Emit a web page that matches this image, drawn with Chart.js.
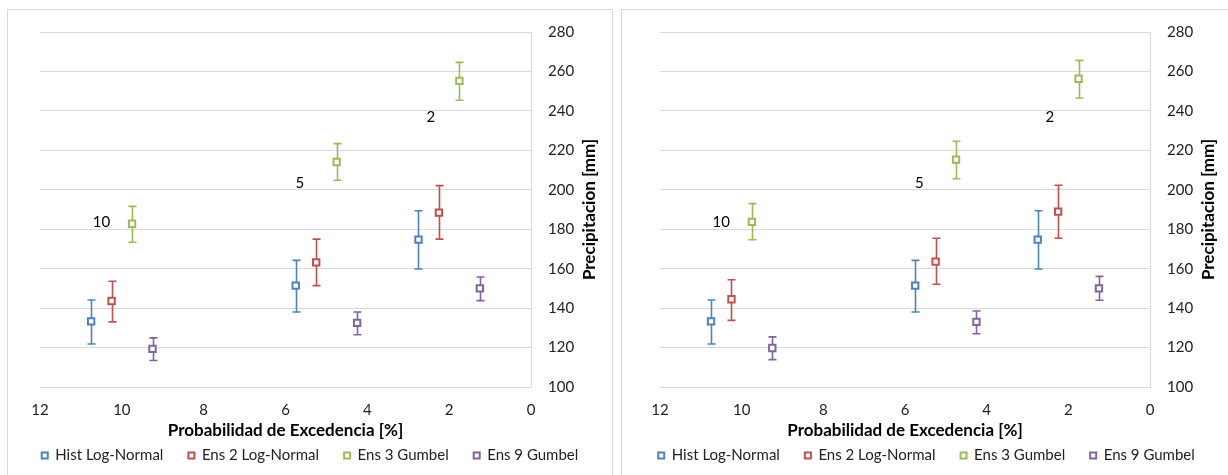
<!DOCTYPE html>
<html>
<head>
<meta charset="utf-8">
<script src="https://cdn.jsdelivr.net/npm/chart.js@4.4.0/dist/chart.umd.min.js"></script>
<style>
  body { margin: 0; background: #fff; width: 1228px; height: 475px; overflow: hidden; position: relative; }
  .panel { position: absolute; top: 9px; height: 470px; border: 1px solid #d9d9d9; background: #fff; }
  .panel canvas { display: block; }
</style>
</head>
<body>
<div class="panel" style="left:7px;width:604px"><canvas id="chartLeft" width="604" height="465"></canvas></div>
<div class="panel" style="left:621px;width:609px"><canvas id="chartRight" width="609" height="465"></canvas></div>
<script>
// Probabilidad de excedencia vs precipitacion, two panels
const SERIES_NAMES = ["Hist Log-Normal", "Ens 2 Log-Normal", "Ens 3 Gumbel", "Ens 9 Gumbel"];
const SERIES_COLORS = ["#4f81bd", "#c0504d", "#9bbb59", "#8064a2"];

// x positions (exceedance %) per series, offset around 10, 5, 2
const histX = [10.75, 5.75, 2.75];
const ens2X = [10.25, 5.25, 2.25];
const ens3X = [9.75, 4.75, 1.75];
const ens9X = [9.25, 4.25, 1.25];

// left panel
const histLeft = [133.3, 151.4, 174.7];
const histLeftLow = [121.8, 138.0, 159.8];
const histLeftHigh = [144.1, 164.2, 189.4];
const ens2Left = [143.6, 163.2, 188.4];
const ens2LeftLow = [133.0, 151.4, 175.0];
const ens2LeftHigh = [153.6, 175.0, 202.1];
const ens3Left = [182.8, 214.1, 255.2];
const ens3LeftLow = [173.4, 204.8, 245.4];
const ens3LeftHigh = [191.6, 223.4, 264.6];
const ens9Left = [119.3, 132.5, 150.0];
const ens9LeftLow = [113.4, 126.5, 143.8];
const ens9LeftHigh = [124.9, 138.0, 155.8];

// right panel
const histRight = [133.3, 151.4, 174.7];
const histRightLow = [121.8, 138.0, 159.8];
const histRightHigh = [144.1, 164.2, 189.4];
const ens2Right = [144.5, 163.6, 188.9];
const ens2RightLow = [133.8, 152.1, 175.4];
const ens2RightHigh = [154.4, 175.4, 202.3];
const ens3Right = [183.7, 215.3, 256.3];
const ens3RightLow = [174.7, 205.6, 246.5];
const ens3RightHigh = [193.0, 224.6, 265.6];
const ens9Right = [119.8, 133.0, 150.0];
const ens9RightLow = [113.9, 127.0, 144.0];
const ens9RightHigh = [125.4, 138.5, 156.1];

// return period labels
const periodText = ["10", "5", "2"];
const periodX = [10.5, 5.65, 2.45];
const periodY = [183.5, 203.5, 237];

const FONT = "Lato";

function points(xs, ys, lows, highs) {
  return xs.map((x, i) => ({ x, y: ys[i], low: lows[i], high: highs[i] }));
}

const errorBars = {
  id: "errorBars",
  beforeDatasetsDraw(chart) {
    const { ctx, scales: { x, y } } = chart;
    chart.data.datasets.forEach((ds) => {
      ctx.save();
      ctx.strokeStyle = ds.borderColor;
      ctx.lineWidth = 1.6;
      ds.data.forEach((p) => {
        const px = Math.round(x.getPixelForValue(p.x)) + 0.5;
        const lo = y.getPixelForValue(p.low);
        const hi = y.getPixelForValue(p.high);
        ctx.beginPath();
        ctx.moveTo(px, lo); ctx.lineTo(px, hi);
        ctx.moveTo(px - 4, lo); ctx.lineTo(px + 4, lo);
        ctx.moveTo(px - 4, hi); ctx.lineTo(px + 4, hi);
        ctx.stroke();
      });
      ctx.restore();
    });
  },
};

const extraText = {
  id: "extraText",
  afterDraw(chart) {
    const { ctx, chartArea, scales: { x, y } } = chart;
    ctx.save();
    ctx.fillStyle = "#000";
    ctx.font = `15px ${FONT}`;
    ctx.textAlign = "center";
    ctx.textBaseline = "middle";
    periodText.forEach((t, i) => {
      ctx.fillText(t, x.getPixelForValue(periodX[i]), y.getPixelForValue(periodY[i]));
    });
    // y title reads bottom-to-top
    ctx.font = `bold 17px ${FONT}`;
    ctx.translate(chartArea.right + 59, (chartArea.top + chartArea.bottom) / 2);
    ctx.rotate(-Math.PI / 2);
    ctx.fillText("Precipitacion [mm]", 0, 0);
    ctx.restore();
  },
};

function makeChart(canvasId, padLeft, sets) {
  const datasets = sets.map((s, i) => ({
    label: SERIES_NAMES[i],
    data: points(s[0], s[1], s[2], s[3]),
    xAxisID: "x",
    yAxisID: "y",
    borderColor: SERIES_COLORS[i],
    backgroundColor: "#fff",
    pointStyle: "rect",
    pointRadius: 4.5,
    pointHoverRadius: 4.5,
    pointBorderWidth: 2,
    showLine: false,
  }));
  return new Chart(document.getElementById(canvasId), {
    type: "scatter",
    data: { datasets },
    options: {
      responsive: false,
      animation: false,
      layout: { padding: { left: 0, right: 0, top: 22, bottom: 2 } },
      plugins: {
        tooltip: { enabled: false },
        legend: {
          position: "bottom",
          labels: {
            usePointStyle: true,
            boxWidth: 6,
            boxHeight: 6,
            padding: 25,
            color: "#222",
            font: { family: FONT, size: 15 },
          },
        },
      },
      scales: {
        x: {
          type: "linear",
          min: 0, max: 12, reverse: true,
          ticks: { stepSize: 2, color: "#222", padding: 14, font: { family: FONT, size: 15 } },
          grid: { display: false, drawTicks: false },
          border: { display: true, color: "#d9d9d9" },
          title: {
            display: true,
            text: "Probabilidad de Excedencia [%]",
            color: "#000",
            font: { family: FONT, size: 17, weight: "bold" },
            padding: { top: 0, bottom: -18 },
          },
          afterFit(scale) { scale.height = 36; },
        },
        // empty spacer on the left, keeps the plot off the panel edge
        spacer: {
          type: "linear",
          position: "left",
          axis: "y",
          min: 0, max: 1,
          display: true,
          ticks: { display: false },
          grid: { display: false, drawTicks: false },
          border: { display: false },
          afterFit(scale) { scale.width = padLeft; },
        },
        y: {
          position: "right",
          min: 100, max: 280,
          ticks: { stepSize: 20, color: "#222", padding: 17, font: { family: FONT, size: 15 } },
          grid: { color: "#d9d9d9", drawTicks: false },
          border: { display: true, color: "#d9d9d9" },
          afterFit(scale) {
            scale.width = 81;
            // tick padding is horizontal here, don't let it push the plot down
            scale.paddingTop = 9;
            scale.paddingBottom = 9;
          },
        },
      },
    },
    plugins: [errorBars, extraText],
  });
}

makeChart("chartLeft", 32, [
  [histX, histLeft, histLeftLow, histLeftHigh],
  [ens2X, ens2Left, ens2LeftLow, ens2LeftHigh],
  [ens3X, ens3Left, ens3LeftLow, ens3LeftHigh],
  [ens9X, ens9Left, ens9LeftLow, ens9LeftHigh],
]);

makeChart("chartRight", 38, [
  [histX, histRight, histRightLow, histRightHigh],
  [ens2X, ens2Right, ens2RightLow, ens2RightHigh],
  [ens3X, ens3Right, ens3RightLow, ens3RightHigh],
  [ens9X, ens9Right, ens9RightLow, ens9RightHigh],
]);
</script>
</body>
</html>
